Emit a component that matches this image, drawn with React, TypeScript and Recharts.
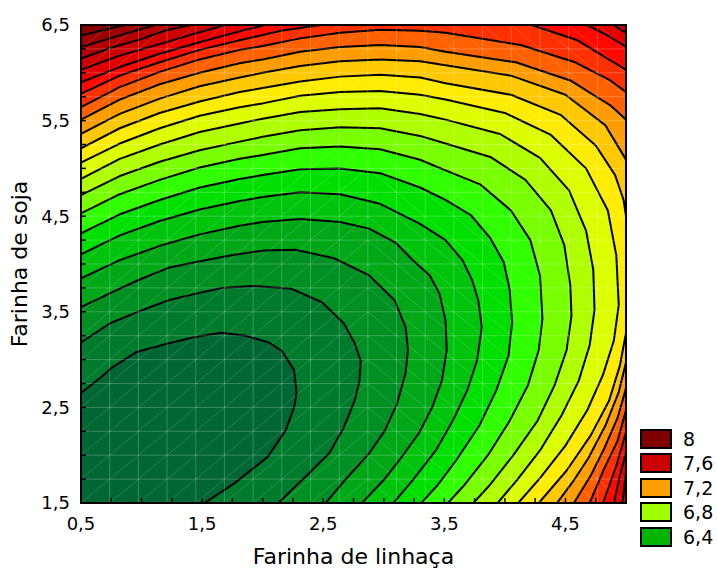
import React from 'react';
import { ScatterChart, Scatter, XAxis, YAxis, CartesianGrid, ReferenceLine, ReferenceArea, Legend } from 'recharts';

type Pt = [number, number];

const FONT = '"DejaVu Sans", Verdana, sans-serif';

// axis ticks (Farinha de linhaça / Farinha de soja)
const X_TICKS = [0.5, 0.75, 1, 1.25, 1.5, 1.75, 2, 2.25, 2.5, 2.75, 3, 3.25, 3.5, 3.75, 4, 4.25, 4.5, 4.75, 5];
const Y_TICKS = [1.5, 1.75, 2, 2.25, 2.5, 2.75, 3, 3.25, 3.5, 3.75, 4, 4.25, 4.5, 4.75, 5, 5.25, 5.5, 5.75, 6, 6.25, 6.5];
const X_LABELS = [0.5, 1.5, 2.5, 3.5, 4.5];
const Y_LABELS = [1.5, 2.5, 3.5, 4.5, 5.5, 6.5];

// contour lines, lowest level first
const C00: Pt[] = [[0.5, 2.65], [0.66, 2.81], [0.75, 2.91], [0.96, 3.08], [1.22, 3.17], [1.45, 3.24], [1.66, 3.28], [1.86, 3.25], [2.05, 3.18], [2.16, 3.09], [2.26, 2.89], [2.28, 2.65], [2.26, 2.5], [2.19, 2.26], [2.04, 1.98], [1.76, 1.7], [1.52, 1.5]];
const C01: Pt[] = [[0.5, 3.18], [0.74, 3.38], [0.97, 3.5], [1.22, 3.62], [1.45, 3.69], [1.66, 3.75], [1.92, 3.77], [2.24, 3.74], [2.49, 3.6], [2.67, 3.38], [2.76, 3.17], [2.81, 2.99], [2.8, 2.78], [2.76, 2.57], [2.67, 2.29], [2.55, 2.02], [2.35, 1.77], [2.13, 1.5]];
const C02: Pt[] = [[0.5, 3.55], [0.75, 3.7], [0.97, 3.83], [1.22, 3.96], [1.45, 4.02], [1.73, 4.09], [2, 4.14], [2.27, 4.15], [2.59, 4.06], [2.88, 3.88], [3.09, 3.62], [3.18, 3.34], [3.2, 3.1], [3.18, 2.86], [3.11, 2.54], [3.01, 2.26], [2.88, 2.02], [2.68, 1.74], [2.52, 1.5]];
const C03: Pt[] = [[0.5, 3.85], [0.82, 4.04], [1.15, 4.19], [1.48, 4.31], [1.81, 4.4], [2, 4.44], [2.31, 4.47], [2.64, 4.44], [2.88, 4.37], [3.1, 4.22], [3.24, 4.04], [3.38, 3.88], [3.46, 3.69], [3.51, 3.41], [3.52, 3.1], [3.48, 2.78], [3.4, 2.5], [3.29, 2.23], [3.13, 1.95], [3, 1.74], [2.82, 1.5]];
const C04: Pt[] = [[0.5, 4.1], [0.82, 4.3], [1.15, 4.45], [1.48, 4.57], [1.81, 4.66], [2, 4.7], [2.31, 4.75], [2.64, 4.73], [2.97, 4.63], [3.3, 4.42], [3.51, 4.25], [3.65, 4.04], [3.73, 3.83], [3.78, 3.62], [3.81, 3.34], [3.77, 2.99], [3.69, 2.68], [3.57, 2.36], [3.43, 2.05], [3.24, 1.74], [3.08, 1.5]];
const C05: Pt[] = [[0.5, 4.32], [0.82, 4.52], [1.15, 4.67], [1.48, 4.8], [1.81, 4.89], [2, 4.93], [2.31, 4.99], [2.64, 5], [2.97, 4.95], [3.3, 4.8], [3.51, 4.67], [3.72, 4.51], [3.88, 4.27], [3.99, 4.02], [4.04, 3.73], [4.06, 3.39], [4.03, 3.04], [3.93, 2.68], [3.79, 2.31], [3.6, 1.95], [3.44, 1.68], [3.31, 1.5]];
const C06: Pt[] = [[0.5, 4.53], [0.82, 4.73], [1.15, 4.88], [1.48, 5.01], [1.81, 5.1], [2, 5.14], [2.31, 5.21], [2.64, 5.23], [2.97, 5.2], [3.3, 5.09], [3.51, 4.98], [3.8, 4.83], [4.05, 4.56], [4.21, 4.25], [4.29, 3.88], [4.31, 3.43], [4.28, 3.1], [4.19, 2.73], [4.04, 2.36], [3.86, 2], [3.66, 1.68], [3.53, 1.5]];
const C07: Pt[] = [[0.5, 4.72], [0.82, 4.92], [1.15, 5.07], [1.48, 5.19], [1.81, 5.28], [2, 5.33], [2.31, 5.4], [2.64, 5.43], [2.97, 5.42], [3.3, 5.34], [3.51, 5.26], [3.88, 5.12], [4.17, 4.88], [4.38, 4.56], [4.49, 4.2], [4.54, 3.78], [4.55, 3.46], [4.51, 3.1], [4.41, 2.73], [4.27, 2.36], [4.07, 2], [3.87, 1.68], [3.74, 1.5]];
const C08: Pt[] = [[0.5, 4.89], [0.82, 5.1], [1.15, 5.25], [1.48, 5.38], [1.81, 5.47], [2, 5.52], [2.31, 5.59], [2.64, 5.62], [2.97, 5.63], [3.3, 5.57], [3.51, 5.51], [3.96, 5.36], [4.29, 5.11], [4.53, 4.77], [4.67, 4.35], [4.73, 3.94], [4.74, 3.52], [4.7, 3.15], [4.61, 2.78], [4.47, 2.42], [4.29, 2.05], [4.1, 1.74], [3.94, 1.5]];
const C09: Pt[] = [[0.5, 5.06], [0.82, 5.26], [1.15, 5.42], [1.48, 5.55], [1.81, 5.64], [2, 5.68], [2.31, 5.76], [2.64, 5.8], [2.97, 5.81], [3.3, 5.77], [3.51, 5.72], [4, 5.58], [4.38, 5.35], [4.67, 5], [4.85, 4.56], [4.92, 4.09], [4.94, 3.57], [4.9, 3.2], [4.81, 2.84], [4.68, 2.47], [4.5, 2.1], [4.29, 1.76], [4.11, 1.5]];
const C10: Pt[] = [[0.5, 5.21], [0.82, 5.42], [1.15, 5.58], [1.48, 5.7], [1.81, 5.8], [2, 5.84], [2.31, 5.91], [2.64, 5.96], [2.97, 5.98], [3.3, 5.95], [3.51, 5.89], [4.05, 5.77], [4.46, 5.56], [4.75, 5.24], [4.91, 4.93], [4.98, 4.67], [5, 4.5], [5, 3.28], [4.95, 2.94], [4.86, 2.57], [4.71, 2.21], [4.51, 1.84], [4.28, 1.5]];
const C11: Pt[] = [[0.5, 5.36], [0.82, 5.57], [1.15, 5.73], [1.48, 5.86], [1.81, 5.95], [2, 6], [2.31, 6.07], [2.64, 6.12], [2.97, 6.14], [3.3, 6.12], [3.51, 6.08], [4.05, 5.97], [4.5, 5.77], [4.83, 5.45], [5, 5.09], [5, 2.97], [4.94, 2.66], [4.83, 2.31], [4.69, 1.97], [4.56, 1.72], [4.43, 1.5]];
const C12: Pt[] = [[0.5, 5.51], [0.82, 5.72], [1.15, 5.88], [1.48, 6], [1.81, 6.1], [2, 6.14], [2.31, 6.22], [2.64, 6.27], [2.97, 6.29], [3.3, 6.27], [3.51, 6.22], [4.09, 6.11], [4.54, 5.92], [4.87, 5.66], [5, 5.51], [5, 2.7], [4.93, 2.39], [4.82, 2.07], [4.71, 1.79], [4.57, 1.5]];
const C13: Pt[] = [[0.5, 5.64], [0.82, 5.85], [1.15, 6.01], [1.48, 6.14], [1.81, 6.24], [2, 6.28], [2.31, 6.36], [2.64, 6.42], [2.97, 6.45], [3.3, 6.44], [3.51, 6.42], [4.13, 6.29], [4.58, 6.11], [4.87, 5.92], [5, 5.8], [5, 2.47], [4.93, 2.15], [4.82, 1.86], [4.7, 1.5]];
const C14: Pt[] = [[0.5, 5.78], [0.82, 5.97], [1.15, 6.11], [1.48, 6.24], [1.81, 6.34], [2.15, 6.44], [2.48, 6.5], [4.22, 6.5], [4.6, 6.34], [5, 6.03], [5, 2.24], [4.92, 1.89], [4.81, 1.5]];
const C15: Pt[] = [[0.5, 5.9], [0.82, 6.06], [1.15, 6.2], [1.48, 6.32], [1.77, 6.42], [2.02, 6.5], [4.68, 6.5], [4.85, 6.39], [5, 6.27], [5, 2.03], [4.95, 1.79], [4.9, 1.5]];
const C16: Pt[] = [[0.5, 6.03], [0.82, 6.18], [1.15, 6.3], [1.44, 6.41], [1.69, 6.5], [4.89, 6.5], [5, 6.42], [5, 1.82], [4.97, 1.5]];
const C17: Pt[] = [[0.5, 6.15], [0.74, 6.26], [0.99, 6.35], [1.19, 6.44], [1.4, 6.5], [5, 6.5], [5, 1.5]];
const C18: Pt[] = [[0.5, 6.27], [0.74, 6.36], [0.95, 6.44], [1.11, 6.5], [5, 6.5], [5, 1.5]];
const C19: Pt[] = [[0.5, 6.39], [0.66, 6.44], [0.86, 6.5], [5, 6.5], [5, 1.5]];

const CONTOURS = [C00, C01, C02, C03, C04, C05, C06, C07, C08, C09, C10, C11, C12, C13, C14, C15, C16, C17, C18, C19];

// colour of the band below each contour; the last one is above the top contour
const BAND_COLORS = [
  '#006633', '#007a2c', '#008f22', '#00a818', '#00c40c', '#00e000', '#30ff00', '#78ff00', '#b0ff00', '#dcff00',
  '#ffec00', '#ffc800', '#ff9c00', '#ff6000', '#ff3000', '#ff0800', '#e40000', '#cc0000', '#b40000', '#9c0000', '#860000',
];

const LEGEND_LABELS = ['8', '7,6', '7,2', '6,8', '6,4'];
const LEGEND_COLORS = ['#800000', '#cc0000', '#ffa000', '#a0ff00', '#00b400'];

const fmt = (v: number) => v.toFixed(1).replace('.', ',');

// the faint white triangulated mesh Statistica draws over the surface
const MESH_DX = 4.5 / 19;
const meshX = (i: number) => 0.5 + i * MESH_DX;
const meshY = (j: number) => 1.5 + j * 0.25;
const MESH_X = Array.from({ length: 18 }, (_, i) => meshX(i + 1));
const MESH_Y = Array.from({ length: 19 }, (_, j) => meshY(j + 1));
const MESH_DIAG: { x: number; y: number }[][] = [];
for (let k = -19; k <= 9; k++) {
  const i0 = Math.max(0, k);
  const i1 = Math.min(10, k + 20);
  if (i0 < i1) MESH_DIAG.push([{ x: meshX(i0), y: meshY(i0 - k) }, { x: meshX(i1), y: meshY(i1 - k) }]);
}
for (let m = 1; m <= 29; m++) {
  const i0 = Math.max(10, m - 10);
  const i1 = Math.min(19, m + 10);
  if (i0 < i1) MESH_DIAG.push([{ x: meshX(i0), y: meshY(m + 10 - i0) }, { x: meshX(i1), y: meshY(m + 10 - i1) }]);
}

const BottomTick = (props: any) => {
  const { x, y, payload } = props;
  const major = X_LABELS.includes(payload.value);
  return (
    <g>
      <line x1={x} x2={x} y1={y} y2={y - 5} stroke="#000" strokeWidth={1.5} />
      {major && (
        <text x={x} y={y + 27} textAnchor="middle" fontSize={18} fontFamily={FONT} fill="#000">
          {fmt(payload.value)}
        </text>
      )}
    </g>
  );
};

const TopTick = (props: any) => {
  const { x, y } = props;
  return <line x1={x} x2={x} y1={y} y2={y + 5} stroke="#000" strokeWidth={1.5} />;
};

const LeftTick = (props: any) => {
  const { x, y, payload } = props;
  const major = Y_LABELS.includes(payload.value);
  return (
    <g>
      <line x1={x} x2={x + 5} y1={y} y2={y} stroke="#000" strokeWidth={1.5} />
      {major && (
        <text x={x - 11} y={y} dy="0.36em" textAnchor="end" fontSize={18} fontFamily={FONT} fill="#000">
          {fmt(payload.value)}
        </text>
      )}
    </g>
  );
};

const RightTick = (props: any) => {
  const { x, y } = props;
  return <line x1={x} x2={x - 5} y1={y} y2={y} stroke="#000" strokeWidth={1.5} />;
};

const XTitle = (props: any) => {
  const vb = props.viewBox || { x: 81, y: 503, width: 545, height: 58 };
  return (
    <text x={vb.x + vb.width / 2} y={vb.y + 61} textAnchor="middle" fontSize={22} fontFamily={FONT} fill="#000">
      Farinha de linhaça
    </text>
  );
};

const YTitle = (props: any) => {
  const vb = props.viewBox || { x: 21, y: 25, width: 60, height: 478 };
  const tx = vb.x + 6;
  const ty = vb.y + vb.height / 2;
  return (
    <text x={tx} y={ty} transform={`rotate(-90, ${tx}, ${ty})`} textAnchor="middle" fontSize={22} fontFamily={FONT} fill="#000">
      Farinha de soja
    </text>
  );
};

const renderLegend = () => (
  <div style={{ position: 'relative', width: 77, height: 125, fontFamily: FONT }}>
    {LEGEND_LABELS.map((label, i) => (
      <div key={label} style={{ position: 'absolute', left: 0, top: i * 24.4, height: 20, display: 'flex', alignItems: 'center' }}>
        <span
          style={{
            display: 'inline-block',
            width: 32,
            height: 20,
            boxSizing: 'border-box',
            border: '2px solid #000',
            background: LEGEND_COLORS[i],
          }}
        />
        <span style={{ marginLeft: 11, fontSize: 19, lineHeight: '20px', color: '#000', whiteSpace: 'nowrap' }}>{label}</span>
      </div>
    ))}
  </div>
);

const noPoint = () => <g />;

export default function App() {
  const regions = CONTOURS.map((c, i) => ({
    color: BAND_COLORS[i],
    data: [{ x: 0.5, y: 1.5 }, ...c.map(([x, y]) => ({ x, y }))],
  })).reverse();

  return (
    <div style={{ width: 717, height: 569 }}>
      <style>{'body{margin:0}'}</style>
      <ScatterChart width={717} height={569} margin={{ top: 25, right: 91, bottom: 8, left: 21 }}>
        <CartesianGrid fill={BAND_COLORS[20]} horizontal={false} vertical={false} />
        <XAxis
          dataKey="x"
          type="number"
          domain={[0.5, 5]}
          allowDataOverflow
          ticks={X_TICKS}
          interval={0}
          tick={BottomTick}
          tickLine={false}
          tickSize={0}
          tickMargin={0}
          height={58}
          axisLine={{ stroke: '#000', strokeWidth: 2 }}
          label={<XTitle />}
        />
        <XAxis
          xAxisId="top"
          orientation="top"
          type="number"
          domain={[0.5, 5]}
          allowDataOverflow
          ticks={X_TICKS}
          interval={0}
          tick={TopTick}
          tickLine={false}
          tickSize={0}
          tickMargin={0}
          height={0}
          axisLine={{ stroke: '#000', strokeWidth: 2 }}
        />
        <YAxis
          dataKey="y"
          type="number"
          domain={[1.5, 6.5]}
          allowDataOverflow
          ticks={Y_TICKS}
          interval={0}
          tick={LeftTick}
          tickLine={false}
          tickSize={0}
          tickMargin={0}
          width={60}
          axisLine={{ stroke: '#000', strokeWidth: 2 }}
          label={<YTitle />}
        />
        <YAxis
          yAxisId="right"
          orientation="right"
          type="number"
          domain={[1.5, 6.5]}
          allowDataOverflow
          ticks={Y_TICKS}
          interval={0}
          tick={RightTick}
          tickLine={false}
          tickSize={0}
          tickMargin={0}
          width={0}
          axisLine={{ stroke: '#000', strokeWidth: 2 }}
        />
        {regions.map((r, i) => (
          <Scatter
            key={`band-${i}`}
            data={r.data}
            shape={noPoint}
            line={{ fill: r.color, stroke: '#000', strokeWidth: 2, strokeLinejoin: 'round' }}
            lineType="joint"
            lineJointType="linear"
            legendType="none"
            isAnimationActive={false}
          />
        ))}
        {MESH_X.map((v) => (
          <ReferenceLine key={`mx-${v}`} x={v} stroke="#ffffff" strokeOpacity={0.22} strokeWidth={1} zIndex={900} />
        ))}
        {MESH_Y.map((v) => (
          <ReferenceLine key={`my-${v}`} y={v} stroke="#ffffff" strokeOpacity={0.22} strokeWidth={1} zIndex={900} />
        ))}
        {MESH_DIAG.map((seg, i) => (
          <ReferenceLine key={`md-${i}`} segment={seg} stroke="#ffffff" strokeOpacity={0.16} strokeWidth={1} zIndex={900} />
        ))}
        <ReferenceArea x1={0.5} x2={5} y1={1.5} y2={6.5} fill="none" stroke="#000" strokeWidth={2} fillOpacity={0} zIndex={1000} />
        <Legend
          content={renderLegend}
          layout="horizontal"
          verticalAlign="middle"
          align="center"
          wrapperStyle={{ left: 640, top: 429, width: 77, height: 125 }}
        />
      </ScatterChart>
    </div>
  );
}
